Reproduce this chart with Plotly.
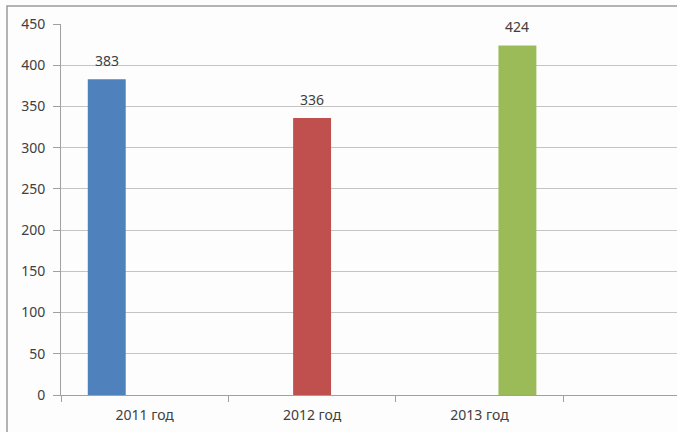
import plotly.graph_objects as go

categories = ["2011 год", "2012 год", "2013 год", " "]
series_names = ["2011 год", "2012 год", "2013 год"]
values = [383, 336, 424]
colors = ["#4F81BD", "#C0504D", "#9BBB59"]
y_ticks = [0, 50, 100, 150, 200, 250, 300, 350, 400, 450]

BARGAP = 0.32
n = len(series_names)
w = (1 - BARGAP) / n

fig = go.Figure()
for i, (name, v, c) in enumerate(zip(series_names, values, colors)):
    ys = [None] * len(categories)
    ys[i] = v
    fig.add_trace(go.Bar(x=categories, y=ys, name=name, marker=dict(color=c, line=dict(width=0)),
                         showlegend=False))
    fig.add_annotation(x=i + (i - (n - 1) / 2) * w, y=v, text=str(v), showarrow=False,
                       yanchor="bottom", yshift=7, font=dict(size=14, color="#404040"))

fig.update_layout(
    width=677, height=432,
    margin=dict(l=61, r=0, t=24, b=37),
    paper_bgcolor="#fdfdfd", plot_bgcolor="#fdfdfd",
    barmode="group", bargap=BARGAP, bargroupgap=0,
    font=dict(family="Noto Sans", size=14, color="#404040"),
    xaxis=dict(type="category", range=[-0.5, 3.18], tickson="boundaries",
               ticks="outside", ticklen=6, tickcolor="#a0a0a0",
               showline=True, linecolor="#a0a0a0", linewidth=1,
               showgrid=False, tickfont=dict(size=14, color="#404040"),
               ticklabelstandoff=7),
    yaxis=dict(range=[0, 450], tickvals=y_ticks, ticks="outside", ticklen=7,
               tickcolor="#a0a0a0", showline=True, linecolor="#a0a0a0", linewidth=1,
               showgrid=True, gridcolor="#c4c4c4", gridwidth=1, zeroline=False,
               tickfont=dict(size=14, color="#404040"), ticklabelstandoff=5),
    shapes=[
        dict(type="rect", xref="paper", yref="paper", layer="above",
             x0=(7 - 61) / 616, x1=1.05, y0=-0.2, y1=(395 - 6) / 371,
             line=dict(color="#9a9a9a", width=1.5), fillcolor="rgba(0,0,0,0)"),
    ],
)

fig.write_html("out.html", config={"displayModeBar": False},
               post_script="document.body.style.margin='0';document.body.style.overflow='hidden';")
